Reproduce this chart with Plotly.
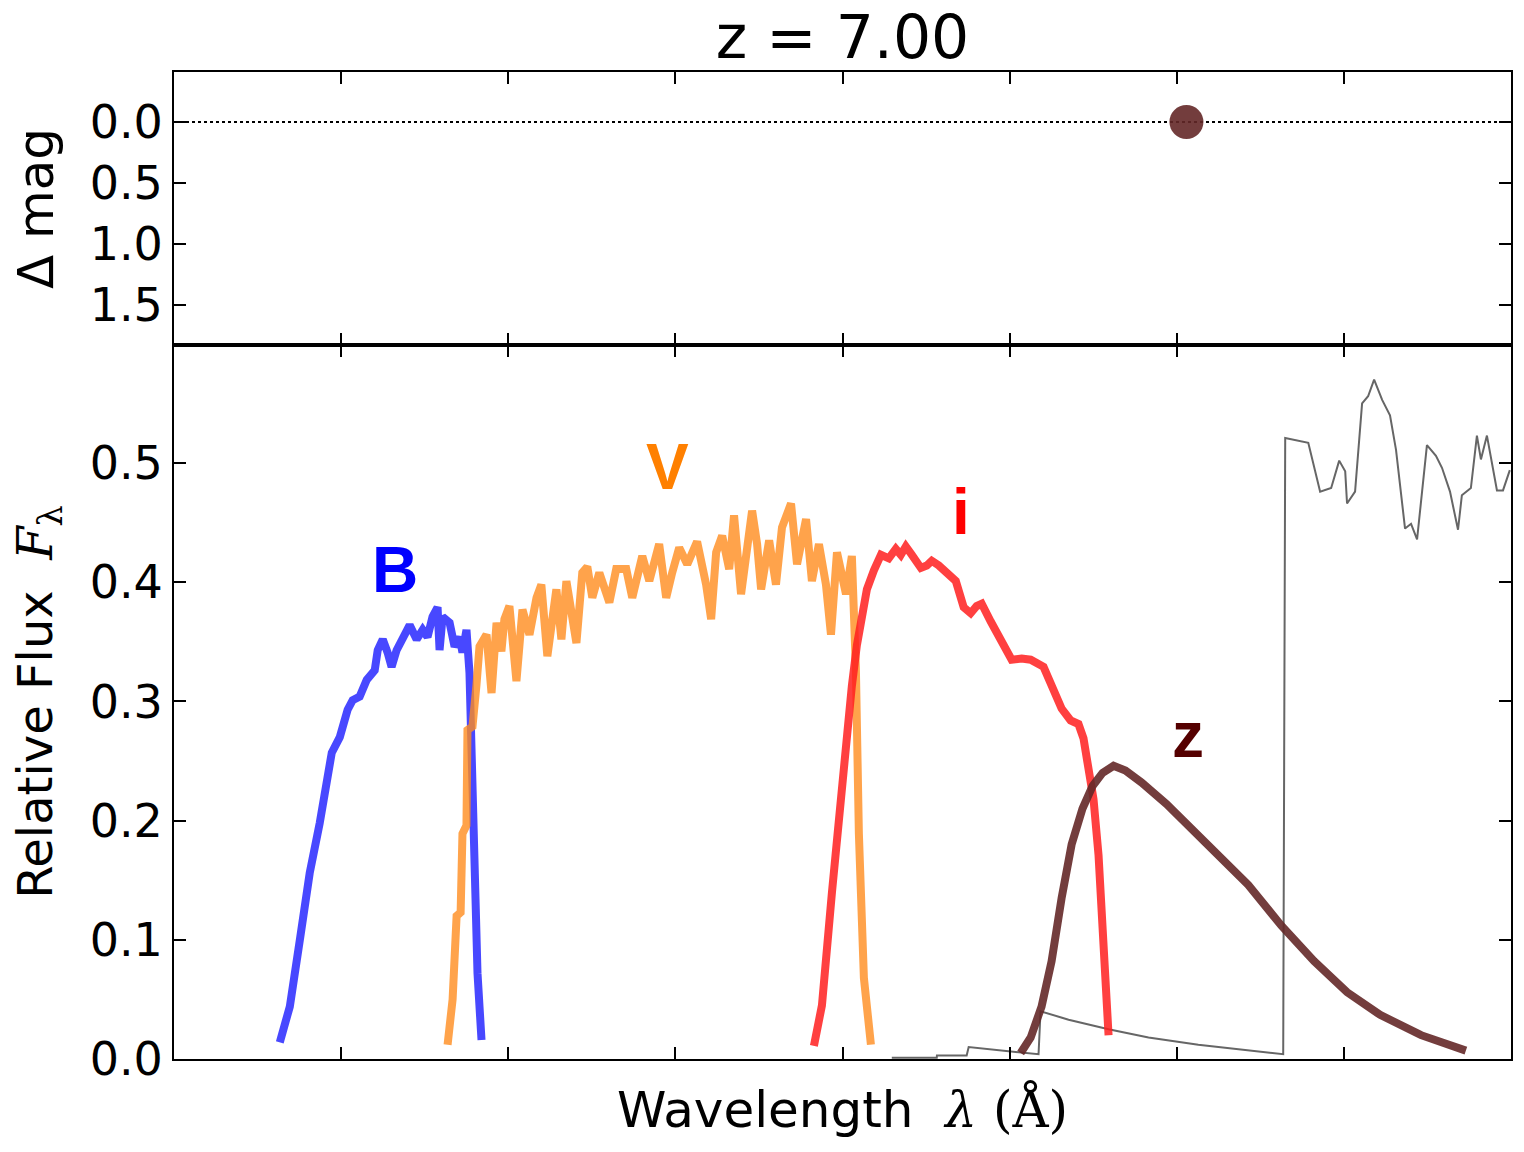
import plotly.graph_objects as go

# ---------------- data ----------------
b_wave = [3633, 3693, 3753, 3812, 3872, 3914, 3944, 3992, 4039, 4069, 4111, 4153, 4201, 4219,
          4249, 4278, 4302, 4332, 4368, 4410, 4452, 4488, 4517, 4547, 4577, 4589, 4607, 4649,
          4679, 4709, 4726, 4750, 4768, 4786, 4804, 4816, 4840]
b_flux = [0.014, 0.044, 0.100, 0.156, 0.198, 0.234, 0.257, 0.270, 0.293, 0.301, 0.304, 0.318,
          0.326, 0.343, 0.352, 0.341, 0.329, 0.343, 0.354, 0.364, 0.352, 0.360, 0.354, 0.371,
          0.379, 0.343, 0.371, 0.366, 0.346, 0.354, 0.341, 0.360, 0.324, 0.240, 0.156, 0.072, 0.016]

v_wave = [4637, 4667, 4691, 4715, 4726, 4750, 4756, 4786, 4810, 4828, 4870, 4900, 4930, 4959,
          4977, 5007, 5049, 5085, 5127, 5169, 5198, 5234, 5288, 5318, 5348, 5408, 5443, 5473,
          5503, 5545, 5605, 5646, 5706, 5742, 5802, 5844, 5903, 5945, 5981, 6023, 6071, 6130,
          6184, 6214, 6244, 6280, 6322, 6351, 6393, 6429, 6459, 6489, 6513, 6561, 6602, 6638,
          6692, 6728, 6782, 6817, 6859, 6901, 6931, 6967, 7021, 7056, 7080, 7098, 7128, 7170]
v_flux = [0.012, 0.050, 0.120, 0.123, 0.189, 0.196, 0.276, 0.279, 0.314, 0.346, 0.356, 0.307,
          0.366, 0.342, 0.369, 0.380, 0.317, 0.377, 0.356, 0.387, 0.398, 0.338, 0.394, 0.352,
          0.401, 0.349, 0.408, 0.413, 0.387, 0.408, 0.383, 0.411, 0.411, 0.387, 0.422, 0.401,
          0.432, 0.387, 0.408, 0.429, 0.415, 0.434, 0.398, 0.369, 0.425, 0.439, 0.411, 0.456,
          0.390, 0.432, 0.460, 0.432, 0.394, 0.435, 0.398, 0.446, 0.466, 0.415, 0.453, 0.401,
          0.432, 0.398, 0.356, 0.425, 0.390, 0.422, 0.328, 0.189, 0.068, 0.012]

i_wave = [6829, 6877, 6937, 6997, 7056, 7086, 7116, 7146, 7188, 7230, 7277, 7319, 7349, 7379,
          7415, 7469, 7504, 7534, 7576, 7624, 7678, 7725, 7767, 7803, 7833, 7887, 7946, 8012,
          8072, 8126, 8203, 8245, 8311, 8365, 8412, 8442, 8472, 8502, 8532, 8562, 8592]
i_flux = [0.011, 0.045, 0.140, 0.234, 0.313, 0.347, 0.373, 0.394, 0.410, 0.423, 0.420, 0.428,
          0.423, 0.430, 0.423, 0.412, 0.414, 0.418, 0.414, 0.407, 0.401, 0.379, 0.374, 0.380,
          0.382, 0.367, 0.352, 0.335, 0.336, 0.335, 0.329, 0.316, 0.294, 0.284, 0.281, 0.269,
          0.247, 0.218, 0.171, 0.093, 0.020]

z_wave = [8066, 8126, 8191, 8251, 8311, 8371, 8436, 8496, 8556, 8622, 8693, 8789, 8938, 9183,
          9428, 9625, 9822, 10019, 10217, 10462, 10730]
z_flux = [0.005, 0.018, 0.044, 0.082, 0.135, 0.180, 0.210, 0.229, 0.240, 0.246, 0.242, 0.232,
          0.214, 0.180, 0.146, 0.112, 0.082, 0.056, 0.037, 0.020, 0.007]

sed_wave = [7295, 7564, 7565, 7743, 7755, 8173, 8185, 8353, 8592, 8831, 9129, 9428, 9637, 9649,
            9787, 9858, 9924, 9972, 10008, 10019, 10067, 10109, 10145, 10181, 10229, 10276,
            10312, 10366, 10402, 10438, 10497, 10551, 10587, 10635, 10683, 10706, 10760, 10796,
            10820, 10856, 10916, 10952, 10993]
sed_flux = [0.001, 0.001, 0.003, 0.003, 0.010, 0.004, 0.040, 0.033, 0.025, 0.018, 0.012, 0.007,
            0.004, 0.521, 0.517, 0.476, 0.479, 0.502, 0.493, 0.466, 0.476, 0.550, 0.556, 0.570,
            0.553, 0.540, 0.511, 0.445, 0.449, 0.436, 0.515, 0.506, 0.496, 0.476, 0.444, 0.473,
            0.479, 0.523, 0.503, 0.523, 0.477, 0.477, 0.494]

dmag_wave = [9058]
dmag_value = [0.0]
zero_line_wave = [3000, 11000]
zero_line_value = [0.0, 0.0]

band_names = ["B", "V", "i", "z"]
band_label_wave = [4320, 5951, 7708, 9070]
band_label_flux = [0.410, 0.497, 0.459, 0.272]

x_range = [3000, 11000]
x_ticks = [4000, 5000, 6000, 7000, 8000, 9000, 10000]
flux_ticks = [0.0, 0.1, 0.2, 0.3, 0.4, 0.5]
dmag_ticks = [0.0, 0.5, 1.0, 1.5]

# ---------------- styles ----------------
curve_colors = ["rgba(40,40,255,0.85)", "rgba(255,140,30,0.8)", "rgba(255,30,30,0.85)", "rgba(100,40,40,0.9)"]
label_colors = ["#0000ff", "#ff8000", "#ff0000", "#550000"]

fig = go.Figure()

fig.add_trace(go.Scatter(x=sed_wave, y=sed_flux, mode="lines", line=dict(color="#666666", width=2),
                         xaxis="x", yaxis="y", showlegend=False, hoverinfo="skip"))

for wv, fl, col in zip([b_wave, v_wave, i_wave, z_wave], [b_flux, v_flux, i_flux, z_flux], curve_colors):
    fig.add_trace(go.Scatter(x=wv, y=fl, mode="lines", line=dict(color=col, width=8),
                             xaxis="x", yaxis="y", showlegend=False))

fig.add_trace(go.Scatter(x=zero_line_wave, y=zero_line_value, mode="lines",
                         line=dict(color="black", width=2, dash="dot"),
                         xaxis="x2", yaxis="y2", showlegend=False))
fig.add_trace(go.Scatter(x=dmag_wave, y=dmag_value, mode="markers",
                         marker=dict(color="rgba(100,40,40,0.9)", size=34),
                         xaxis="x2", yaxis="y2", showlegend=False))

for name, lx, ly, col in zip(band_names, band_label_wave, band_label_flux, label_colors):
    fig.add_annotation(x=lx, y=ly, xref="x", yref="y", text="<b>%s</b>" % name, showarrow=False,
                       font=dict(family="Liberation Sans", size=64, color=col))

axis_common = dict(showline=True, linecolor="black", linewidth=2, mirror="ticks",
                   ticks="inside", ticklen=12, tickwidth=1.5, tickcolor="black",
                   showgrid=False, zeroline=False)

split = 0.7234
fig.update_layout(
    width=1524, height=1152,
    margin=dict(l=174, r=11, t=72, b=93),
    paper_bgcolor="white", plot_bgcolor="white",
    font=dict(family="DejaVu Sans", color="black"),
    title=dict(text="z = 7.00", x=0.5, xref="paper", xanchor="center", y=0.968, yanchor="middle",
               font=dict(family="DejaVu Sans", size=60, color="black")),
    xaxis=dict(domain=[0, 1], range=x_range, tickvals=x_ticks, showticklabels=False,
               anchor="y",
               title=dict(text="Wavelength  <span style='font-family:DejaVu Serif'><i>λ</i> (Å)</span>",
                          font=dict(size=50), standoff=32),
               **axis_common),
    yaxis=dict(domain=[0, split], range=[0, 0.599], tickvals=flux_ticks, ticktext=["%.1f" % t for t in flux_ticks],
               tickfont=dict(size=46), anchor="x",
               title=dict(text="Relative Flux  <span style='font-family:DejaVu Serif'><i>F</i><sub>λ</sub></span>",
                          font=dict(size=48), standoff=22),
               **axis_common),
    xaxis2=dict(domain=[0, 1], range=x_range, tickvals=x_ticks, showticklabels=False, anchor="y2",
                matches="x", **axis_common),
    yaxis2=dict(domain=[split, 1], range=[1.83, -0.41], tickvals=dmag_ticks,
                ticktext=["%.1f" % t for t in dmag_ticks], tickfont=dict(size=46), anchor="x2",
                title=dict(text="Δ mag", font=dict(size=50), standoff=20),
                **axis_common),
)

fig.write_html("out.html")
